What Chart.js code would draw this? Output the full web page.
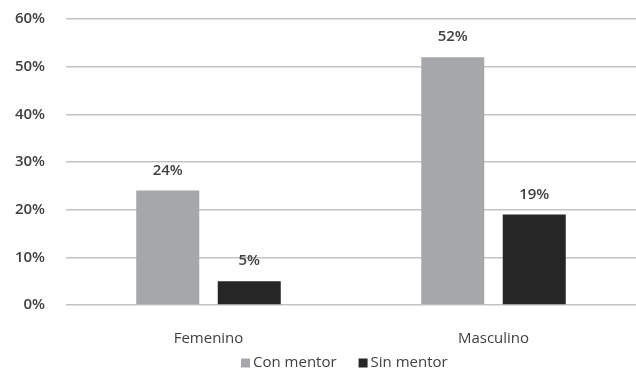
<!DOCTYPE html>
<html><head><meta charset="utf-8">
<script src="https://cdn.jsdelivr.net/npm/chart.js@4"></script>
<style>html,body{margin:0;padding:0;background:#fff;}#wrap{width:636px;height:373px;}</style>
</head><body><div id="wrap"><canvas id="c" width="636" height="373"></canvas></div>
<script>
const categories = ["Femenino", "Masculino"];
const conMentor = [24, 52];
const sinMentor = [5, 19];
const yTicks = [0, 10, 20, 30, 40, 50, 60];

const FONT = "'Open Sans', sans-serif";
const TXT = "#404040";

const valueLabels = {
  id: 'valueLabels',
  afterDatasetsDraw(chart) {
    const ctx = chart.ctx;
    ctx.save();
    ctx.font = "600 15px " + FONT;
    ctx.fillStyle = TXT;
    ctx.textAlign = 'center';
    ctx.textBaseline = 'middle';
    chart.data.datasets.forEach((ds, i) => {
      chart.getDatasetMeta(i).data.forEach((bar, j) => {
        ctx.fillText(ds.data[j] + '%', bar.x, bar.y - 20);
      });
    });
    ctx.restore();
  }
};

// legend drawn from the datasets (label + colour), Excel-style spacing
const bottomLegend = {
  id: 'bottomLegend',
  afterDraw(chart) {
    const ctx = chart.ctx;
    ctx.save();
    ctx.font = "15px " + FONT;
    ctx.textBaseline = 'middle';
    ctx.textAlign = 'left';
    const box = 9, gapBoxText = 3, gapItems = 22, y = 363;
    const items = chart.data.datasets.map(ds => ({ label: ds.label, color: ds.backgroundColor, w: ctx.measureText(ds.label).width }));
    let total = 0;
    items.forEach((it, i) => { total += box + gapBoxText + it.w + (i < items.length - 1 ? gapItems : 0); });
    let x = Math.round(344.5 - total / 2);
    items.forEach(it => {
      ctx.fillStyle = it.color;
      ctx.fillRect(x, y - 4.5, box, box);
      ctx.fillStyle = TXT;
      ctx.fillText(it.label, x + box + gapBoxText, y);
      x += box + gapBoxText + it.w + gapItems;
    });
    ctx.restore();
  }
};

new Chart(document.getElementById('c'), {
  type: 'bar',
  data: {
    labels: categories,
    datasets: [
      { label: 'Con mentor', data: conMentor, backgroundColor: '#a6a7a9', categoryPercentage: 0.572, barPercentage: 0.773 },
      { label: 'Sin mentor', data: sinMentor, backgroundColor: '#262626', categoryPercentage: 0.572, barPercentage: 0.773 }
    ]
  },
  options: {
    responsive: false,
    animation: false,
    events: [],
    layout: { padding: { left: 0, right: 0, top: 19, bottom: 0 } },
    plugins: {
      legend: { display: false },
      tooltip: { enabled: false }
    },
    scales: {
      x: {
        grid: { display: false, drawTicks: false },
        border: { display: false },
        ticks: { color: TXT, font: { family: FONT, size: 15 }, padding: 25 },
        afterFit(s) { s.height = 68; }
      },
      y: {
        min: 0, max: 60,
        afterBuildTicks(s) { s.ticks = yTicks.map(v => ({ value: v })); },
        grid: { color: '#c4c4c4', lineWidth: 1.6, drawTicks: false },
        border: { display: false },
        ticks: { color: TXT, font: { family: FONT, size: 15, weight: '600' }, padding: 21, callback: v => v + '%' },
        afterFit(s) { s.width = 66; s.paddingTop = 0; s.paddingBottom = 0; }
      }
    }
  },
  plugins: [valueLabels, bottomLegend]
});
</script>
</body></html>
